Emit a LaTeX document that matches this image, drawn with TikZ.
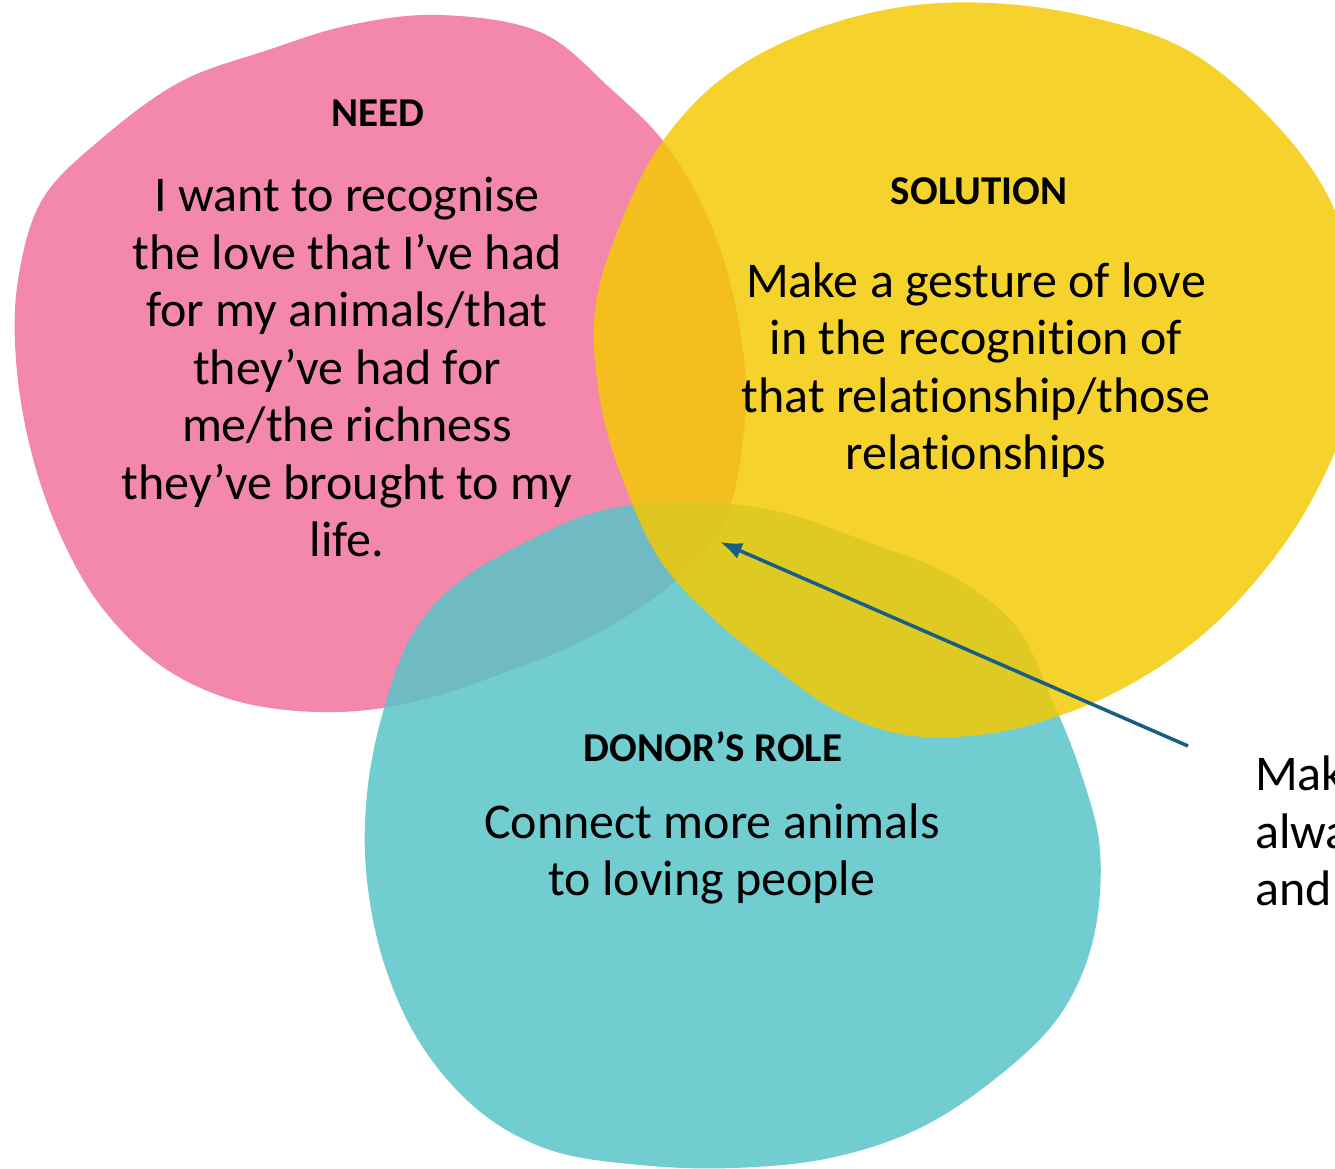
\documentclass[tikz,border=0pt]{standalone}
\usepackage{fontspec}
\setmainfont{Carlito}[Ligatures=NoCommon]
\usetikzlibrary{arrows.meta}
\definecolor{needpink}{RGB}{243,136,171}
\definecolor{solyellow}{RGB}{244,201,4}
\definecolor{roleteal}{RGB}{87,196,200}
\definecolor{arrowblue}{RGB}{24,94,130}
\begin{document}
\begin{tikzpicture}[x=1pt, y=-1pt,
    head/.style={font=\fontsize{41}{49}\selectfont\bfseries, inner sep=0pt},
    body/.style={font=\fontsize{50}{57.5}\selectfont, align=center, inner sep=0pt},
    pointer/.style={-{Latex[length=22pt,width=17pt]}, line width=3.5pt, arrowblue}]
    \useasboundingbox (0,0) rectangle (1335,1169);
    \clip (0,0) rectangle (1335,1169);
    % the three blobs
    \fill[needpink] plot[smooth cycle, tension=0.6] coordinates {(268,50) (350,25) (440,15) (540,32) (610,88) (670,150) (715,235) (740,330) (745,420) (725,520) (673,583) (590,637) (490,678) (400,705) (317,712) (233,700) (160,665) (100,605) (58,530) (30,447) (16,360) (18,280) (42,200) (100,140) (180,82)};
    \fill[roleteal, fill opacity=0.84] plot[smooth cycle, tension=0.6] coordinates {(385,705) (412,635) (455,585) (520,545) (600,511) (690,502) (780,512) (870,543) (950,575) (1015,625) (1050,695) (1080,770) (1100,850) (1093,940) (1060,1015) (1000,1075) (920,1128) (830,1158) (733,1168) (640,1165) (550,1150) (478,1110) (420,1043) (383,960) (366,870) (368,785)};
    \fill[solyellow, fill opacity=0.84] plot[smooth cycle, tension=0.6] coordinates {(990,3) (1090,17) (1187,50) (1270,118) (1330,200) (1360,300) (1352,400) (1317,490) (1267,567) (1200,637) (1120,690) (1040,722) (970,736) (900,734) (835,710) (780,672) (715,620) (660,560) (623,480) (600,400) (595,310) (620,225) (660,145) (720,80) (800,35) (895,8)};
    % texts
    \node[head] (needhead) at (378,113) {NEED};
    \node[body] (needtext) at (347,367) {I want to recognise\\the love that I’ve had\\for my animals/that\\they’ve had for\\me/the richness\\they’ve brought to my\\life.};
    \node[head] (solhead) at (979,191) {SOLUTION};
    \node[body] (soltext) at (976,370) {Make a gesture of love\\in the recognition of\\that relationship/those\\relationships};
    \node[head] (rolehead) at (713,747) {DONOR’S ROLE};
    \node[body] (roletext) at (712,854) {Connect more animals\\to loving people};
    \node[body, align=left, anchor=west] (note) at (1255,831) {Mak\\alwa\\and};
    % pointer into the middle
    \coordinate (tail) at (1188,746);
    \coordinate (heart) at (720,542);
    \draw[pointer] (tail) -- (heart);
\end{tikzpicture}
\end{document}
